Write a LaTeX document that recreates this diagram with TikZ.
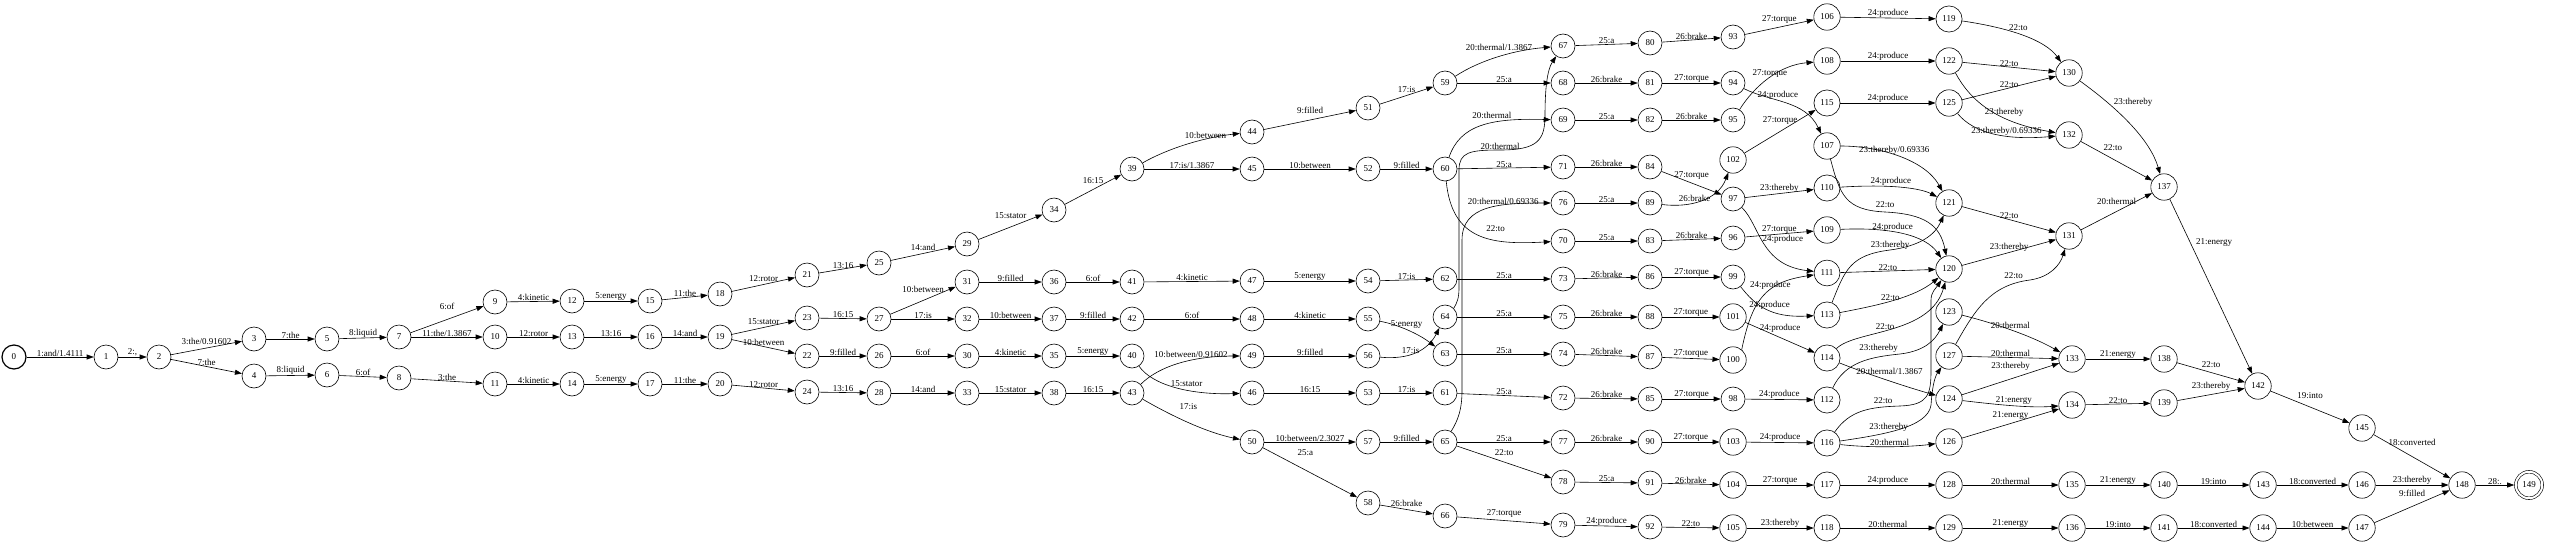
\documentclass[tikz,border=0pt]{standalone}
\usepackage{fontspec}
\setmainfont{Liberation Serif}
\usetikzlibrary{arrows.meta}

\begin{document}
\begin{tikzpicture}[x = 1pt, y = -1pt,
    st/.style = {shape = circle, draw, minimum size = 24pt, inner sep = 4.3pt, line width = 0.6pt, font = \fontsize{9}{10}\selectfont},
    tr/.style = {draw, line width = 0.6pt, -{Triangle[length = 7pt, width = 5pt]}},
    lbl/.style = {inner sep = 0.5pt, font = \fontsize{9}{10}\selectfont}]
    \useasboundingbox (0,0) rectangle (2550,546);
    \node[st, line width = 1.2pt] (n0) at (14,357) {0};
    \node[st] (n1) at (106,357) {1};
    \node[st] (n2) at (159,357) {2};
    \node[st] (n3) at (254,339) {3};
    \node[st] (n4) at (254,376) {4};
    \node[st] (n5) at (327,339) {5};
    \node[st] (n6) at (327,375) {6};
    \node[st] (n7) at (399,337) {7};
    \node[st] (n8) at (399,378) {8};
    \node[st] (n9) at (495,302) {9};
    \node[st] (n10) at (495,337) {10};
    \node[st] (n11) at (495,384) {11};
    \node[st] (n12) at (572,301) {12};
    \node[st] (n13) at (572,337) {13};
    \node[st] (n14) at (572,384) {14};
    \node[st] (n15) at (650,301) {15};
    \node[st] (n16) at (650,337) {16};
    \node[st] (n17) at (650,384) {17};
    \node[st] (n18) at (720,294) {18};
    \node[st] (n19) at (720,337) {19};
    \node[st] (n20) at (720,384) {20};
    \node[st] (n21) at (807,275) {21};
    \node[st] (n22) at (807,356) {22};
    \node[st] (n23) at (807,318) {23};
    \node[st] (n24) at (807,392) {24};
    \node[st] (n25) at (879,263) {25};
    \node[st] (n26) at (879,356) {26};
    \node[st] (n27) at (879,319) {27};
    \node[st] (n28) at (879,393) {28};
    \node[st] (n29) at (967,244) {29};
    \node[st] (n30) at (967,356) {30};
    \node[st] (n31) at (967,282) {31};
    \node[st] (n32) at (967,319) {32};
    \node[st] (n33) at (967,393) {33};
    \node[st] (n34) at (1054,210) {34};
    \node[st] (n35) at (1054,356) {35};
    \node[st] (n36) at (1054,282) {36};
    \node[st] (n37) at (1054,319) {37};
    \node[st] (n38) at (1054,393) {38};
    \node[st] (n39) at (1132,169) {39};
    \node[st] (n40) at (1132,356) {40};
    \node[st] (n41) at (1132,282) {41};
    \node[st] (n42) at (1132,319) {42};
    \node[st] (n43) at (1132,393) {43};
    \node[st] (n44) at (1252,132) {44};
    \node[st] (n45) at (1252,169) {45};
    \node[st] (n46) at (1252,393) {46};
    \node[st] (n47) at (1252,281) {47};
    \node[st] (n48) at (1252,319) {48};
    \node[st] (n49) at (1252,356) {49};
    \node[st] (n50) at (1252,442) {50};
    \node[st] (n51) at (1368,108) {51};
    \node[st] (n52) at (1368,169) {52};
    \node[st] (n53) at (1368,393) {53};
    \node[st] (n54) at (1368,281) {54};
    \node[st] (n55) at (1368,319) {55};
    \node[st] (n56) at (1368,356) {56};
    \node[st] (n57) at (1368,442) {57};
    \node[st] (n58) at (1368,503) {58};
    \node[st] (n59) at (1445,83) {59};
    \node[st] (n60) at (1445,169) {60};
    \node[st] (n61) at (1445,393) {61};
    \node[st] (n62) at (1445,279) {62};
    \node[st] (n63) at (1445,354) {63};
    \node[st] (n64) at (1445,317) {64};
    \node[st] (n65) at (1445,442) {65};
    \node[st] (n66) at (1445,516) {66};
    \node[st] (n67) at (1563,46) {67};
    \node[st] (n68) at (1563,83) {68};
    \node[st] (n69) at (1563,120) {69};
    \node[st] (n70) at (1563,241) {70};
    \node[st] (n71) at (1563,167) {71};
    \node[st] (n72) at (1563,398) {72};
    \node[st] (n73) at (1563,279) {73};
    \node[st] (n74) at (1563,354) {74};
    \node[st] (n75) at (1563,317) {75};
    \node[st] (n76) at (1563,203) {76};
    \node[st] (n77) at (1563,442) {77};
    \node[st] (n78) at (1563,482) {78};
    \node[st] (n79) at (1563,525) {79};
    \node[st] (n80) at (1650,43) {80};
    \node[st] (n81) at (1650,83) {81};
    \node[st] (n82) at (1650,120) {82};
    \node[st] (n83) at (1650,241) {83};
    \node[st] (n84) at (1650,167) {84};
    \node[st] (n85) at (1650,399) {85};
    \node[st] (n86) at (1650,277) {86};
    \node[st] (n87) at (1650,357) {87};
    \node[st] (n88) at (1650,317) {88};
    \node[st] (n89) at (1650,203) {89};
    \node[st] (n90) at (1650,442) {90};
    \node[st] (n91) at (1650,483) {91};
    \node[st] (n92) at (1650,527) {92};
    \node[st] (n93) at (1733,37) {93};
    \node[st] (n94) at (1733,83) {94};
    \node[st] (n95) at (1733,120) {95};
    \node[st] (n96) at (1733,238) {96};
    \node[st] (n97) at (1733,199) {97};
    \node[st] (n98) at (1733,399) {98};
    \node[st] (n99) at (1733,277) {99};
    \node[st] (n100) at (1733,360) {100};
    \node[st] (n101) at (1733,317) {101};
    \node[st] (n102) at (1733,160) {102};
    \node[st] (n103) at (1733,442) {103};
    \node[st] (n104) at (1733,485) {104};
    \node[st] (n105) at (1733,528) {105};
    \node[st] (n106) at (1827,17) {106};
    \node[st] (n107) at (1827,146) {107};
    \node[st] (n108) at (1827,61) {108};
    \node[st] (n109) at (1827,230) {109};
    \node[st] (n110) at (1827,188) {110};
    \node[st] (n111) at (1827,273) {111};
    \node[st] (n112) at (1827,400) {112};
    \node[st] (n113) at (1827,315) {113};
    \node[st] (n114) at (1827,358) {114};
    \node[st] (n115) at (1827,103) {115};
    \node[st] (n116) at (1827,443) {116};
    \node[st] (n117) at (1827,485) {117};
    \node[st] (n118) at (1827,528) {118};
    \node[st] (n119) at (1949,19) {119};
    \node[st] (n120) at (1949,269) {120};
    \node[st] (n121) at (1949,203) {121};
    \node[st] (n122) at (1949,61) {122};
    \node[st] (n123) at (1949,312) {123};
    \node[st] (n124) at (1949,399) {124};
    \node[st] (n125) at (1949,103) {125};
    \node[st] (n126) at (1949,442) {126};
    \node[st] (n127) at (1949,356) {127};
    \node[st] (n128) at (1949,485) {128};
    \node[st] (n129) at (1949,528) {129};
    \node[st] (n130) at (2069,73) {130};
    \node[st] (n131) at (2069,236) {131};
    \node[st] (n132) at (2069,135) {132};
    \node[st] (n133) at (2072,359) {133};
    \node[st] (n134) at (2072,405) {134};
    \node[st] (n135) at (2072,485) {135};
    \node[st] (n136) at (2072,528) {136};
    \node[st] (n137) at (2164,187) {137};
    \node[st] (n138) at (2164,359) {138};
    \node[st] (n139) at (2164,403) {139};
    \node[st] (n140) at (2164,485) {140};
    \node[st] (n141) at (2164,528) {141};
    \node[st] (n142) at (2258,386) {142};
    \node[st] (n143) at (2263,485) {143};
    \node[st] (n144) at (2263,528) {144};
    \node[st] (n145) at (2362,428) {145};
    \node[st] (n146) at (2362,485) {146};
    \node[st] (n147) at (2362,528) {147};
    \node[st] (n148) at (2462,485) {148};
    \node[st, double, double distance = 2pt, outer sep = 1.6pt] (n149) at (2529,485) {149};

    \draw[tr] (n0) -- node[lbl, above] {1:and/1.4111} (n1);
    \draw[tr] (n1) -- node[lbl, above] {2:,} (n2);
    \draw[tr] (n2) -- node[lbl, above = 3pt] {3:the/0.91602} (n3);
    \draw[tr] (n2) -- node[lbl, above] {7:the} (n4);
    \draw[tr] (n3) -- node[lbl, above] {7:the} (n5);
    \draw[tr] (n4) -- node[lbl, above] {8:liquid} (n6);
    \draw[tr] (n5) -- node[lbl, above] {8:liquid} (n7);
    \draw[tr] (n6) -- node[lbl, above] {6:of} (n8);
    \draw[tr] (n7) -- node[lbl, above = 9pt] {6:of} (n9);
    \draw[tr] (n7) -- node[lbl, above] {11:the/1.3867} (n10);
    \draw[tr] (n8) -- node[lbl, above] {3:the} (n11);
    \draw[tr] (n9) -- node[lbl, above] {4:kinetic} (n12);
    \draw[tr] (n10) -- node[lbl, above] {12:rotor} (n13);
    \draw[tr] (n11) -- node[lbl, above] {4:kinetic} (n14);
    \draw[tr] (n12) -- node[lbl, above] {5:energy} (n15);
    \draw[tr] (n13) -- node[lbl, above] {13:16} (n16);
    \draw[tr] (n14) -- node[lbl, above] {5:energy} (n17);
    \draw[tr] (n15) -- node[lbl, above] {11:the} (n18);
    \draw[tr] (n16) -- node[lbl, above] {14:and} (n19);
    \draw[tr] (n17) -- node[lbl, above] {11:the} (n20);
    \draw[tr] (n18) -- node[lbl, above = 2pt] {12:rotor} (n21);
    \draw[tr] (n19) -- node[lbl, above = 2pt] {15:stator} (n23);
    \draw[tr] (n19) -- node[lbl, above] {10:between} (n22);
    \draw[tr] (n20) -- node[lbl, above] {12:rotor} (n24);
    \draw[tr] (n21) -- node[lbl, above] {13:16} (n25);
    \draw[tr] (n23) -- node[lbl, above] {16:15} (n27);
    \draw[tr] (n22) -- node[lbl, above] {9:filled} (n26);
    \draw[tr] (n24) -- node[lbl, above] {13:16} (n28);
    \draw[tr] (n25) -- node[lbl, above = 2pt] {14:and} (n29);
    \draw[tr] (n27) -- node[lbl, above = 7pt] {10:between} (n31);
    \draw[tr] (n27) -- node[lbl, above] {17:is} (n32);
    \draw[tr] (n26) -- node[lbl, above] {6:of} (n30);
    \draw[tr] (n28) -- node[lbl, above] {14:and} (n33);
    \draw[tr] (n29) -- node[lbl, above = 8pt] {15:stator} (n34);
    \draw[tr] (n31) -- node[lbl, above] {9:filled} (n36);
    \draw[tr] (n32) -- node[lbl, above] {10:between} (n37);
    \draw[tr] (n30) -- node[lbl, above] {4:kinetic} (n35);
    \draw[tr] (n33) -- node[lbl, above] {15:stator} (n38);
    \draw[tr] (n34) -- node[lbl, above = 5pt] {16:15} (n39);
    \draw[tr] (n36) -- node[lbl, above] {6:of} (n41);
    \draw[tr] (n37) -- node[lbl, above] {9:filled} (n42);
    \draw[tr] (n35) -- node[lbl, above] {5:energy} (n40);
    \draw[tr] (n38) -- node[lbl, above] {16:15} (n43);
    \draw[tr] (n39) .. controls (1165,150) and (1200,138) .. (n44) node[lbl, pos = 0.7, above] {10:between};
    \draw[tr] (n39) -- node[lbl, above] {17:is/1.3867} (n45);
    \draw[tr] (n41) -- node[lbl, above] {4:kinetic} (n47);
    \draw[tr] (n42) -- node[lbl, above] {6:of} (n48);
    \draw[tr] (n43) .. controls (1160,365) and (1195,356) .. (n49) node[lbl, pos = 0.6, above = 2pt] {10:between/0.91602};
    \draw[tr] (n40) .. controls (1152,385) and (1190,395) .. (n46) node[lbl, pos = 0.6, above = 3pt] {15:stator};
    \draw[tr] (n43) .. controls (1170,415) and (1205,432) .. (n50) node[lbl, pos = 0.5, above = 12pt] {17:is};
    \draw[tr] (n44) -- node[lbl, above = 6pt] {9:filled} (n51);
    \draw[tr] (n45) -- node[lbl, above] {10:between} (n52);
    \draw[tr] (n47) -- node[lbl, above] {5:energy} (n54);
    \draw[tr] (n48) -- node[lbl, above] {4:kinetic} (n55);
    \draw[tr] (n49) -- node[lbl, above] {9:filled} (n56);
    \draw[tr] (n46) -- node[lbl, above] {16:15} (n53);
    \draw[tr] (n50) -- node[lbl, above] {10:between/2.3027} (n57);
    \draw[tr] (n50) -- node[lbl, pos = 0.45, above = 14pt] {25:a} (n58);
    \draw[tr] (n51) -- node[lbl, above = 2pt] {17:is} (n59);
    \draw[tr] (n52) -- node[lbl, above] {9:filled} (n60);
    \draw[tr] (n54) -- node[lbl, above] {17:is} (n62);
    \draw[tr] (n55) .. controls (1400,325) and (1420,335) .. (n63) node[lbl, pos = 0.45, above] {5:energy};
    \draw[tr] (n56) .. controls (1410,360) and (1428,350) .. (n64) node[lbl, pos = 0.4, above] {17:is};
    \draw[tr] (n53) -- node[lbl, above] {17:is} (n61);
    \draw[tr] (n57) -- node[lbl, above] {9:filled} (n65);
    \draw[tr] (n58) -- node[lbl, above = 2pt] {26:brake} (n66);
    \draw[tr] (n59) .. controls (1480,60) and (1515,50) .. (n67) node[lbl, pos = 0.5, above = 5pt] {20:thermal/1.3867};
    \draw[tr] (n59) -- node[lbl, above] {25:a} (n68);
    \draw[tr] (n60) .. controls (1460,125) and (1490,118) .. (n69) node[lbl, pos = 0.6, above = 3pt] {20:thermal};
    \draw[tr] (n60) -- node[lbl, above] {25:a} (n71);
    \draw[tr] (n60) .. controls (1452,240) and (1490,245) .. (n70) node[lbl, pos = 0.65, above = 8pt] {22:to};
    \draw[tr] (n64.45) .. controls (1457,303) and (1459,298) .. (1459,288) -- (1459,170) .. controls (1459,152) and (1470,150) .. (1500,150) node[lbl, pos = 1, above] {20:thermal} .. controls (1538,150) and (1545,140) .. (1545,115) .. controls (1545,90) and (1547,70) .. (n67);
    \draw[tr] (n65.60) .. controls (1458,420) and (1462,410) .. (1462,390) -- (1462,240) .. controls (1462,205) and (1500,203) .. (n76) node[lbl, pos = 0.65, above] {20:thermal/0.69336};
    \draw[tr] (n62) -- node[lbl, above] {25:a} (n73);
    \draw[tr] (n64) -- node[lbl, above] {25:a} (n75);
    \draw[tr] (n63) -- node[lbl, above] {25:a} (n74);
    \draw[tr] (n61) -- node[lbl, above] {25:a} (n72);
    \draw[tr] (n65) -- node[lbl, above] {25:a} (n77);
    \draw[tr] (n65) -- node[lbl, above = 6pt] {22:to} (n78);
    \draw[tr] (n66) -- node[lbl, above = 2pt] {27:torque} (n79);
    \draw[tr] (n67) -- node[lbl, above] {25:a} (n80);
    \draw[tr] (n68) -- node[lbl, above] {26:brake} (n81);
    \draw[tr] (n69) -- node[lbl, above] {25:a} (n82);
    \draw[tr] (n71) -- node[lbl, above] {26:brake} (n84);
    \draw[tr] (n76) -- node[lbl, above] {25:a} (n89);
    \draw[tr] (n70) -- node[lbl, above] {25:a} (n83);
    \draw[tr] (n73) -- node[lbl, above] {26:brake} (n86);
    \draw[tr] (n75) -- node[lbl, above] {26:brake} (n88);
    \draw[tr] (n74) -- node[lbl, above] {26:brake} (n87);
    \draw[tr] (n72) -- node[lbl, above] {26:brake} (n85);
    \draw[tr] (n77) -- node[lbl, above] {26:brake} (n90);
    \draw[tr] (n78) -- node[lbl, above] {25:a} (n91);
    \draw[tr] (n79) -- node[lbl, above] {24:produce} (n92);
    \draw[tr] (n80) -- node[lbl, above] {26:brake} (n93);
    \draw[tr] (n81) -- node[lbl, above] {27:torque} (n94);
    \draw[tr] (n82) -- node[lbl, above] {26:brake} (n95);
    \draw[tr] (n84) -- node[lbl, above = 3pt] {27:torque} (n97);
    \draw[tr] (n89) .. controls (1690,208) and (1718,200) .. (n102) node[lbl, pos = 0.4, above] {26:brake};
    \draw[tr] (n83) -- node[lbl, above] {26:brake} (n96);
    \draw[tr] (n86) -- node[lbl, above] {27:torque} (n99);
    \draw[tr] (n88) -- node[lbl, above] {27:torque} (n101);
    \draw[tr] (n87) -- node[lbl, above] {27:torque} (n100);
    \draw[tr] (n85) -- node[lbl, above] {27:torque} (n98);
    \draw[tr] (n90) -- node[lbl, above] {27:torque} (n103);
    \draw[tr] (n91) -- node[lbl, above] {26:brake} (n104);
    \draw[tr] (n92) -- node[lbl, above] {22:to} (n105);
    \draw[tr] (n93) -- node[lbl, above = 3pt] {27:torque} (n106);
    \draw[tr] (n95) .. controls (1755,85) and (1780,65) .. (n108) node[lbl, pos = 0.5, above] {27:torque};
    \draw[tr] (n94) .. controls (1770,102) and (1805,100) .. (n107) node[lbl, pos = 0.4, above] {24:produce};
    \draw[tr] (n102) -- node[lbl, above = 6pt] {27:torque} (n115);
    \draw[tr] (n97) -- node[lbl, above] {23:thereby} (n110);
    \draw[tr] (n97) .. controls (1760,225) and (1760,265) .. (n111) node[lbl, pos = 0.45, right] {24:produce};
    \draw[tr] (n96) -- node[lbl, above] {27:torque} (n109);
    \draw[tr] (n99) .. controls (1755,305) and (1770,318) .. (n113) node[lbl, pos = 0.55, above] {24:produce};
    \draw[tr] (n100.50) .. controls (1752,300) and (1765,282) .. (n111) node[lbl, pos = 0.6, above] {24:produce};
    \draw[tr] (n101) -- node[lbl, above = 4pt] {24:produce} (n114);
    \draw[tr] (n98) -- node[lbl, above] {24:produce} (n112);
    \draw[tr] (n103) -- node[lbl, above] {24:produce} (n116);
    \draw[tr] (n104) -- node[lbl, above] {27:torque} (n117);
    \draw[tr] (n105) -- node[lbl, above] {23:thereby} (n118);
    \draw[tr] (n106) -- node[lbl, above] {24:produce} (n119);
    \draw[tr] (n108) -- node[lbl, above] {24:produce} (n122);
    \draw[tr] (n115) -- node[lbl, above] {24:produce} (n125);
    \draw[tr] (n107) .. controls (1880,146) and (1925,160) .. (n121) node[lbl, pos = 0.45, above] {23:thereby/0.69336};
    \draw[tr] (n107) .. controls (1840,195) and (1845,210) .. (1885,212) node[lbl, pos = 1, above = 4pt] {22:to} .. controls (1925,214) and (1940,225) .. (n120);
    \draw[tr] (n110) .. controls (1890,184) and (1920,188) .. (n121) node[lbl, pos = 0.4, above] {24:produce};
    \draw[tr] (n109) .. controls (1890,227) and (1925,235) .. (n120) node[lbl, pos = 0.4, above] {24:produce};
    \draw[tr] (n111) -- node[lbl, above] {22:to} (n120);
    \draw[tr] (n113) .. controls (1845,270) and (1850,255) .. (1890,250) node[lbl, pos = 1, above] {23:thereby} .. controls (1920,246) and (1935,235) .. (n121);
    \draw[tr] (n113) .. controls (1880,305) and (1915,297) .. (n120) node[lbl, pos = 0.45, above] {22:to};
    \draw[tr] (n114) .. controls (1855,330) and (1930,335) .. (n120) node[lbl, pos = 0.45, above] {22:to};
    \draw[tr] (n112) .. controls (1845,362) and (1870,357) .. (1900,354) node[lbl, pos = 0.75, above = 4pt] {23:thereby} .. controls (1925,351) and (1935,340) .. (n123);
    \draw[tr] (n114) .. controls (1870,375) and (1910,388) .. (n124) node[lbl, pos = 0.5, above = 5pt] {20:thermal/1.3867};
    \draw[tr] (n116) .. controls (1850,410) and (1870,407) .. (1900,406) node[lbl, pos = 0.8, above = 3pt] {22:to} .. controls (1928,405) and (1931,395) .. (1931,370) -- (1931,300) .. controls (1931,292) and (1936,288) .. (n120);
    \draw[tr] (n116) .. controls (1880,435) and (1928,428) .. (1931,405) node[lbl, pos = 0.4, above] {23:thereby} .. controls (1932,390) and (1934,378) .. (n127);
    \draw[tr] (n116) .. controls (1870,448) and (1910,447) .. (n126) node[lbl, pos = 0.5, above] {20:thermal};
    \draw[tr] (n117) -- node[lbl, above] {24:produce} (n128);
    \draw[tr] (n118) -- node[lbl, above] {20:thermal} (n129);
    \draw[tr] (n119) .. controls (2010,28) and (2045,40) .. (n130) node[lbl, pos = 0.45, above = 3pt] {22:to};
    \draw[tr] (n122) -- node[lbl, above] {22:to} (n130);
    \draw[tr] (n125) -- node[lbl, above] {22:to} (n130);
    \draw[tr] (n122) .. controls (1970,100) and (1995,122) .. (n132) node[lbl, pos = 0.65, above] {23:thereby};
    \draw[tr] (n125) .. controls (1975,135) and (2010,140) .. (n132) node[lbl, pos = 0.6, above] {23:thereby/0.69336};
    \draw[tr] (n121) -- node[lbl, above] {22:to} (n131);
    \draw[tr] (n120) -- node[lbl, above] {23:thereby} (n131);
    \draw[tr] (n127) .. controls (1975,310) and (1990,285) .. (2030,280) node[lbl, pos = 0.85, above = 4pt] {22:to} .. controls (2050,277) and (2060,265) .. (n131);
    \draw[tr] (n123) .. controls (1990,322) and (2030,335) .. (n133) node[lbl, pos = 0.5, above] {20:thermal};
    \draw[tr] (n127) -- node[lbl, above] {20:thermal} (n133);
    \draw[tr] (n124) -- node[lbl, above = 8pt] {23:thereby} (n133);
    \draw[tr] (n124) .. controls (2000,405) and (2030,408) .. (n134) node[lbl, pos = 0.5, above] {21:energy};
    \draw[tr] (n126) -- node[lbl, above = 3pt] {21:energy} (n134);
    \draw[tr] (n128) -- node[lbl, above] {20:thermal} (n135);
    \draw[tr] (n129) -- node[lbl, above] {21:energy} (n136);
    \draw[tr] (n130) .. controls (2120,110) and (2150,140) .. (n137) node[lbl, pos = 0.3, above right] {23:thereby};
    \draw[tr] (n132) -- node[lbl, pos = 0.45, above = 8pt] {22:to} (n137);
    \draw[tr] (n131) -- node[lbl, above = 6pt] {20:thermal} (n137);
    \draw[tr] (n137) -- node[lbl, pos = 0.25, right = 5pt] {21:energy} (n142);
    \draw[tr] (n133) -- node[lbl, above] {21:energy} (n138);
    \draw[tr] (n134) -- node[lbl, above] {22:to} (n139);
    \draw[tr] (n138) -- node[lbl, above = 4pt] {22:to} (n142);
    \draw[tr] (n139) -- node[lbl, above = 3pt] {23:thereby} (n142);
    \draw[tr] (n142) -- node[lbl, above = 8pt] {19:into} (n145);
    \draw[tr] (n145) -- node[lbl, above = 10pt] {18:converted} (n148);
    \draw[tr] (n135) -- node[lbl, above] {21:energy} (n140);
    \draw[tr] (n136) -- node[lbl, above] {19:into} (n141);
    \draw[tr] (n140) -- node[lbl, above] {19:into} (n143);
    \draw[tr] (n141) -- node[lbl, above] {18:converted} (n144);
    \draw[tr] (n143) -- node[lbl, above] {18:converted} (n146);
    \draw[tr] (n144) -- node[lbl, above] {10:between} (n147);
    \draw[tr] (n146) -- node[lbl, above] {23:thereby} (n148);
    \draw[tr] (n147) -- node[lbl, above = 9pt] {9:filled} (n148);
    \draw[tr] (n148) -- node[lbl, above] {28:.} (n149);
\end{tikzpicture}
\end{document}
